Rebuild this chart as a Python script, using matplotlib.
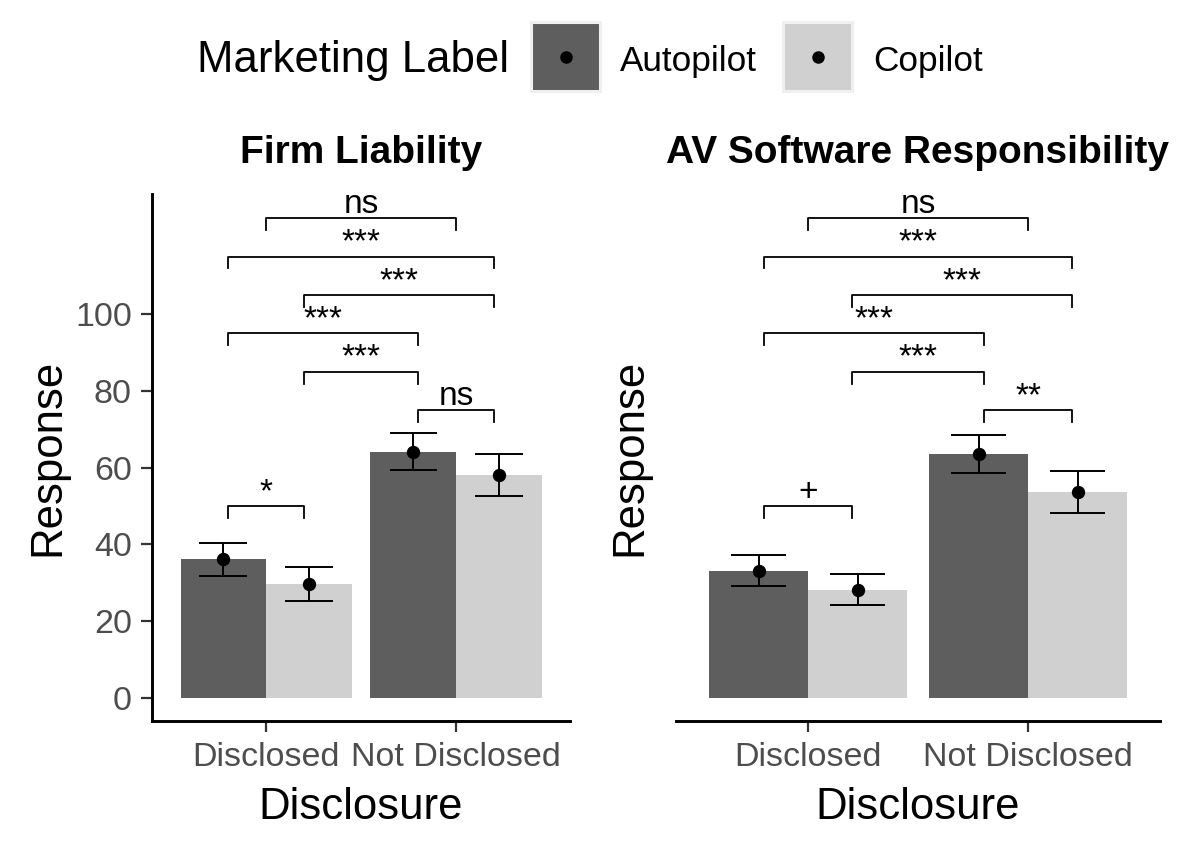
import matplotlib
matplotlib.use("Agg")
import matplotlib.pyplot as plt
import numpy as np
from matplotlib.patches import Rectangle
from matplotlib.lines import Line2D

plt.rcParams['font.family'] = ['Liberation Sans', 'DejaVu Sans']

# data
disclosure = ["Disclosed", "Not Disclosed"]
marketing = ["Autopilot", "Copilot"]
colors = ["#5E5E5E", "#D0D0D0"]

firm_mean = [[36.1, 64.0], [29.6, 58.0]]
firm_lo = [[31.8, 59.3], [25.2, 52.5]]
firm_hi = [[40.3, 69.0], [34.0, 63.5]]

av_mean = [[33.0, 63.5], [28.0, 53.6]]
av_lo = [[29.0, 58.6], [24.2, 48.1]]
av_hi = [[37.1, 68.4], [32.2, 59.2]]

# comparisons: (group, label index or None for group centre) pairs, level, text
firm_sig = [((0, 0), (0, 1), 50, "*"),
            ((1, 0), (1, 1), 75, "ns"),
            ((0, 1), (1, 0), 85, "***"),
            ((0, 0), (1, 0), 95, "***"),
            ((0, 1), (1, 1), 105, "***"),
            ((0, 0), (1, 1), 115, "***"),
            ((0, None), (1, None), 125, "ns")]
av_sig = [((0, 0), (0, 1), 50, "+"),
          ((1, 0), (1, 1), 75, "**"),
          ((0, 1), (1, 0), 85, "***"),
          ((0, 0), (1, 0), 95, "***"),
          ((0, 1), (1, 1), 105, "***"),
          ((0, 0), (1, 1), 115, "***"),
          ((0, None), (1, None), 125, "ns")]

W, H = 1182, 849
fig = plt.figure(figsize=(W / 100, H / 100), dpi=100)

def px_box(x0, x1, ytop, ybot):
    return [x0 / W, 1 - ybot / H, (x1 - x0) / W, (ybot - ytop) / H]

def cell_x(g, k, off):
    if k is None:
        return g + 1
    return g + 1 + (off if k == 1 else -off)

def draw_panel(ax, title, mean, lo, hi, sig, show_y):
    x = np.arange(1, len(disclosure) + 1)
    bw = 0.45
    for k, lab in enumerate(marketing):
        xs = x + (k - 0.5) * bw
        ax.bar(xs, mean[k], width=bw, color=colors[k], label=lab, zorder=1)
        ax.vlines(xs, lo[k], hi[k], color="black", lw=1.4, zorder=2)
        ax.hlines(lo[k], xs - 0.125, xs + 0.125, color="black", lw=1.4, zorder=2)
        ax.hlines(hi[k], xs - 0.125, xs + 0.125, color="black", lw=1.4, zorder=2)
        ax.plot(xs, mean[k], "o", color="black", ms=8.6, zorder=3)

    tip = 3.1
    for a, b, lev, txt in sig:
        x1 = cell_x(a[0], a[1], 0.2)
        x2 = cell_x(b[0], b[1], 0.2)
        ax.plot([x1, x1, x2, x2], [lev - tip, lev, lev, lev - tip],
                color="black", lw=1.3, zorder=2)
        ax.text((x1 + x2) / 2, lev + 1.3, txt, ha="center", va="baseline",
                fontsize=24)

    ax.set_xlim(0.4, 2.6)
    ax.set_ylim(-6.0, 131.3)
    ax.set_xticks(x)
    ax.set_xticklabels(disclosure)
    ax.set_title(title, fontsize=28, fontweight="bold", pad=22)
    ax.set_xlabel("Disclosure", fontsize=31.5)
    ax.set_ylabel("Response", fontsize=31.5)
    for s in ["top", "right"]:
        ax.spines[s].set_visible(False)
    ax.spines["bottom"].set_linewidth(2.1)
    ax.tick_params(axis="x", length=8, width=1.6, color="#333333",
                   labelcolor="#4D4D4D", labelsize=24.5, pad=7.5)
    if show_y:
        ax.spines["left"].set_linewidth(2.1)
        ax.set_yticks([0, 20, 40, 60, 80, 100])
        ax.tick_params(axis="y", length=8, width=1.6, color="#333333",
                       labelcolor="#4D4D4D", labelsize=24.5, pad=6.5)
    else:
        ax.spines["left"].set_visible(False)
        ax.set_yticks([])

ax1 = fig.add_axes(px_box(152, 570, 194, 720.7))
ax2 = fig.add_axes(px_box(676, 1160, 194, 720.7))
draw_panel(ax1, "Firm Liability", firm_mean, firm_lo, firm_hi, firm_sig, True)
draw_panel(ax2, "AV Software Responsibility", av_mean, av_lo, av_hi, av_sig, False)

ax1.yaxis.set_label_coords((68 - 152) / 418, 0.5)
ax2.yaxis.set_label_coords((650 - 676) / 484, 0.5)
ax1.xaxis.set_label_coords(0.5, -0.125)
ax2.xaxis.set_label_coords(0.5, -0.125)

# legend across the top
fig.text(197 / W, 1 - 72 / H, "Marketing Label", fontsize=31.5, va="baseline")
key_x = [531, 783]
text_x = [620, 873]
for k, lab in enumerate(marketing):
    x0 = key_x[k]
    fig.add_artist(Rectangle((x0 / W, 1 - 90.7 / H), 69 / W, 68.4 / H,
                             transform=fig.transFigure, facecolor=colors[k],
                             edgecolor="#F0F0F0", lw=2.2))
    fig.add_artist(Line2D([(x0 + 34.5) / W], [1 - 56.5 / H], marker="o",
                          color="black", ms=8, transform=fig.transFigure))
    fig.text(text_x[k] / W, 1 - 71 / H, lab, fontsize=25.3, va="baseline")

fig.savefig("out.png", dpi=100)
